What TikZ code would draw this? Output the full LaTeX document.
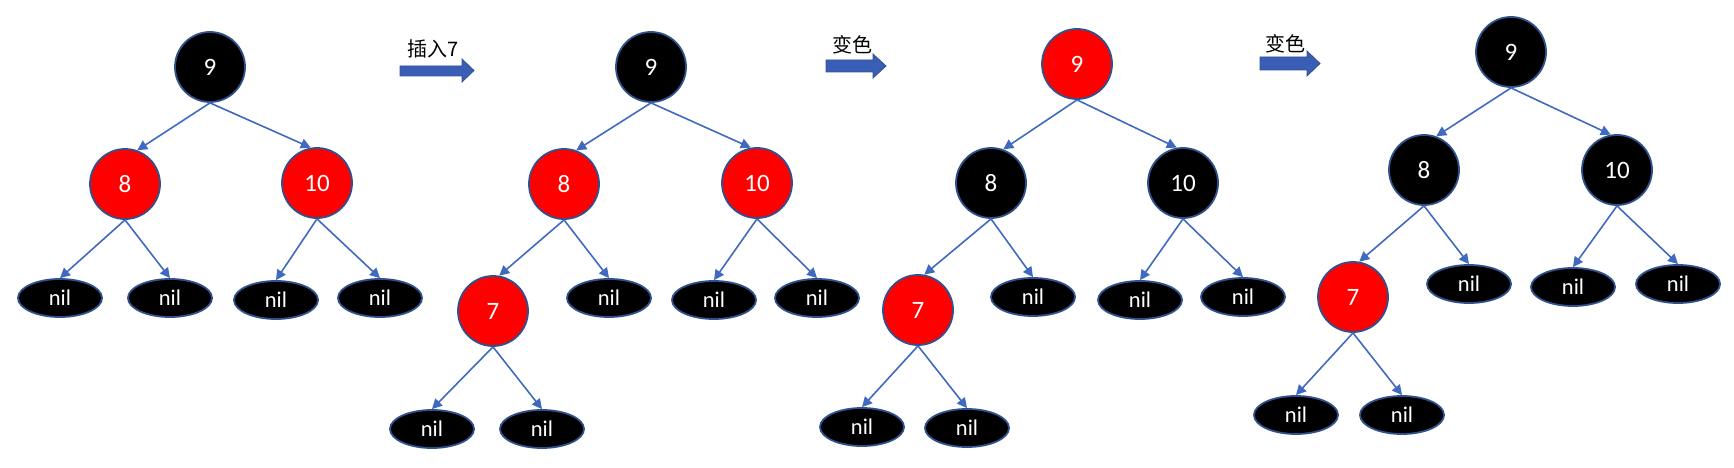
\documentclass[tikz,border=0pt]{standalone}
\usepackage{fontspec}
\setmainfont{Carlito}
\newfontfamily\cjk{Noto Sans CJK SC}
\usetikzlibrary{shapes.geometric,arrows.meta}
\definecolor{rbred}{HTML}{FF0000}
\definecolor{bord}{HTML}{2F528F}
\definecolor{eblue}{HTML}{4069C0}
\definecolor{ablue}{HTML}{3A5DB6}
\tikzset{
  rbnode/.style={circle, minimum size=70pt, inner sep=0pt, draw=bord, line width=1.8pt, text=white, font=\fontsize{25}{27}\selectfont},
  rednode/.style={rbnode, fill=rbred},
  blknode/.style={rbnode, fill=black},
  nilnode/.style={ellipse, minimum width=84pt, minimum height=38pt, inner sep=0pt, fill=black, draw=bord, line width=1.8pt, text=white, font=\fontsize{22.5}{24}\selectfont},
  edge/.style={draw=eblue, line width=1.6pt, -{Triangle[length=10pt,width=10pt]}},
  blockarrow/.style={fill=ablue, draw=bord, line width=0.8pt},
  steplabel/.style={anchor=west, inner sep=0pt, font=\cjk\fontsize{20}{22}\selectfont}
}
\begin{document}
\begin{tikzpicture}[x=1pt,y=-1pt]
\useasboundingbox (0,0) rectangle (1734,468);
% ---------- tree 1
\node[blknode] (a9) at (210,67) {9};
\node[rednode] (a8) at (125,184) {8};
\node[rednode] (a10) at (317,183) {10};
\node[nilnode] (a1) at (60,298) {nil};
\node[nilnode] (a2) at (170,298) {nil};
\node[nilnode] (a3) at (276,300) {nil};
\node[nilnode] (a4) at (380,298) {nil};
\draw[edge] (a9.south) -- (a8.70);
\draw[edge] (a9.south) -- (a10.100);
\draw[edge] (a8.south) -- (a1.north);
\draw[edge] (a8.south) -- (a2.north);
\draw[edge] (a10.south) -- (a3.north);
\draw[edge] (a10.south) -- (a4.north);
% ---------- arrow 1
\draw[blockarrow] (400,66) -- (462,66) -- (462,59) -- (474,70.5) -- (462,82) -- (462,76) -- (400,76) -- cycle;
\node[steplabel] (l1) at (407,49) {插入7};
% ---------- tree 2
\node[blknode] (b9) at (651,67) {9};
\node[rednode] (b8) at (564,184) {8};
\node[rednode] (b10) at (757,183) {10};
\node[rednode] (b7) at (493,311) {7};
\node[nilnode] (b8r) at (609,298) {nil};
\node[nilnode] (b10l) at (714,300) {nil};
\node[nilnode] (b10r) at (817,298) {nil};
\node[nilnode] (b7l) at (432,429) {nil};
\node[nilnode] (b7r) at (542,429) {nil};
\draw[edge] (b9.south) -- (b8.70);
\draw[edge] (b9.south) -- (b10.100);
\draw[edge] (b8.south) -- (b7.80);
\draw[edge] (b8.south) -- (b8r.north);
\draw[edge] (b10.south) -- (b10l.north);
\draw[edge] (b10.south) -- (b10r.north);
\draw[edge] (b7.south) -- (b7l.north);
\draw[edge] (b7.south) -- (b7r.north);
% ---------- arrow 2
\draw[blockarrow] (826,60) -- (873,60) -- (873,54) -- (886,66) -- (873,78) -- (873,72) -- (826,72) -- cycle;
\node[steplabel] (l2) at (832,45) {变色};
% ---------- tree 3
\node[rednode] (c9) at (1077,64) {9};
\node[blknode] (c8) at (991,183) {8};
\node[blknode] (c10) at (1183,183) {10};
\node[rednode] (c7) at (918,310) {7};
\node[nilnode] (c8r) at (1033,297) {nil};
\node[nilnode] (c10l) at (1140,300) {nil};
\node[nilnode] (c10r) at (1243,297) {nil};
\node[nilnode] (c7l) at (862,427) {nil};
\node[nilnode] (c7r) at (967,428) {nil};
\draw[edge] (c9.south) -- (c8.70);
\draw[edge] (c9.south) -- (c10.100);
\draw[edge] (c8.south) -- (c7.80);
\draw[edge] (c8.south) -- (c8r.north);
\draw[edge] (c10.south) -- (c10l.north);
\draw[edge] (c10.south) -- (c10r.north);
\draw[edge] (c7.south) -- (c7l.north);
\draw[edge] (c7.south) -- (c7r.north);
% ---------- arrow 3
\draw[blockarrow] (1260,57) -- (1307,57) -- (1307,51) -- (1320,63.5) -- (1307,76) -- (1307,70) -- (1260,70) -- cycle;
\node[steplabel] (l3) at (1265,44) {变色};
% ---------- tree 4
\node[blknode] (d9) at (1511,52) {9};
\node[blknode] (d8) at (1424,170) {8};
\node[blknode] (d10) at (1617,170) {10};
\node[rednode] (d7) at (1353,297) {7};
\node[nilnode] (d8r) at (1469,284) {nil};
\node[nilnode] (d10l) at (1573,287) {nil};
\node[nilnode] (d10r) at (1678,284) {nil};
\node[nilnode] (d7l) at (1296,415) {nil};
\node[nilnode] (d7r) at (1402,415) {nil};
\draw[edge] (d9.south) -- (d8.70);
\draw[edge] (d9.south) -- (d10.100);
\draw[edge] (d8.south) -- (d7.80);
\draw[edge] (d8.south) -- (d8r.north);
\draw[edge] (d10.south) -- (d10l.north);
\draw[edge] (d10.south) -- (d10r.north);
\draw[edge] (d7.south) -- (d7l.north);
\draw[edge] (d7.south) -- (d7r.north);
\end{tikzpicture}
\end{document}
